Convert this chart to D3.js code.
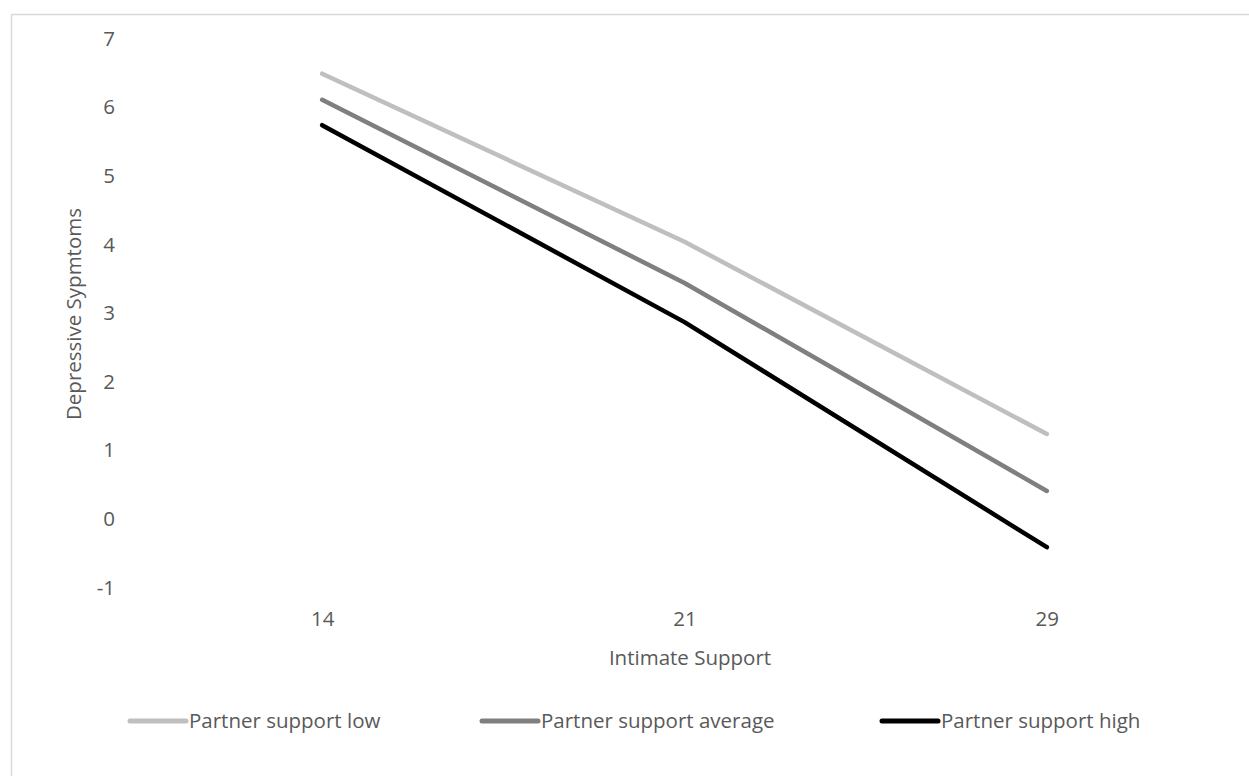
<!DOCTYPE html>
<html><head><meta charset="utf-8">
<script src="https://cdn.jsdelivr.net/npm/d3@7"></script>
<style>body{margin:0;background:#fff;} text{font-family:"Open Sans",sans-serif;}</style>
</head><body>
<svg id="c" width="1249" height="776"></svg>
<script>
const categories = ["14","21","29"];
const seriesNames = ["Partner support low","Partner support average","Partner support high"];
const lowValues = [6.48, 4.03, 1.23];
const avgValues = [6.10, 3.43, 0.40];
const highValues = [5.73, 2.86, -0.42];
const yTicks = [-1,0,1,2,3,4,5,6,7];
const colors = ["#bfbfbf","#7f7f7f","#000000"];

const series = [lowValues, avgValues, highValues].map((v,i)=>({name:seriesNames[i], values:v, color:colors[i]}));
const svg = d3.select("#c");
svg.append("rect").attr("x",11.5).attr("y",14.5).attr("width",1300).attr("height",800)
  .attr("fill","none").attr("stroke","#d9d9d9").attr("stroke-width",1.5);

const x = d3.scalePoint().domain(categories).range([141,1228]).padding(0.5);
const y = d3.scaleLinear().domain([-1,7]).range([587,38]);
const fs = 20.5;

const yAxis = svg.append("g").attr("transform","translate(115,0)")
  .call(d3.axisLeft(y).tickValues(yTicks).tickSize(0).tickPadding(0).tickFormat(d=>String(d)));
yAxis.select(".domain").remove();
yAxis.selectAll("text").attr("fill","#595959").attr("font-size",fs).attr("dy","0.35em").style("font-family","'Open Sans',sans-serif");

const xAxis = svg.append("g").attr("transform","translate(0,619)")
  .call(d3.axisBottom(x).tickSize(0).tickPadding(0));
xAxis.select(".domain").remove();
xAxis.selectAll("text").attr("fill","#595959").attr("font-size",fs).attr("dy","0.35em").style("font-family","'Open Sans',sans-serif");

svg.append("text").attr("x",690).attr("y",658).attr("dy","0.35em").attr("text-anchor","middle")
  .attr("fill","#595959").attr("font-size",fs).text("Intimate Support");
svg.append("text").attr("transform","translate(81,314) rotate(-90)").attr("text-anchor","middle")
  .attr("fill","#595959").attr("font-size",fs).text("Depressive Sypmtoms");

const line = d3.line().x((d,i)=>x(categories[i])).y(d=>y(d));
svg.selectAll("path.series").data(series).enter().append("path").attr("class","series")
  .attr("d",d=>line(d.values)).attr("fill","none").attr("stroke",d=>d.color)
  .attr("stroke-width",4.5).attr("stroke-linecap","round").attr("stroke-linejoin","round");

const legX = [130, 482, 882];
const lg = svg.selectAll("g.leg").data(series).enter().append("g").attr("class","leg")
  .attr("transform",(d,i)=>`translate(${legX[i]},721)`);
lg.append("line").attr("x1",0).attr("x2",56).attr("y1",0).attr("y2",0)
  .attr("stroke",d=>d.color).attr("stroke-width",5).attr("stroke-linecap","round");
lg.append("text").attr("x",59).attr("y",0).attr("dy","0.35em").attr("fill","#595959")
  .attr("font-size",fs).text(d=>d.name);
</script>
</body></html>
